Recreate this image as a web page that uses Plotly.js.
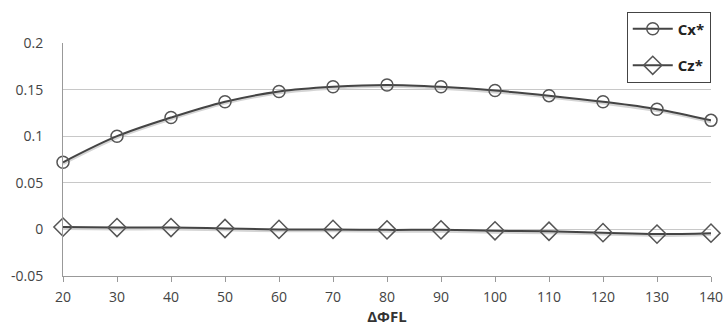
<!DOCTYPE html>
<html><head><meta charset="utf-8">
<script src="https://cdn.plot.ly/plotly-3.0.1.min.js"></script>
<style>html,body{margin:0;padding:0;background:#fff}#c{width:727px;height:328px}</style>
</head><body><div id="c"></div>
<script>
const dphi = [20,30,40,50,60,70,80,90,100,110,120,130,140];
const cx = [0.072,0.100,0.120,0.137,0.148,0.153,0.155,0.153,0.149,0.1435,0.137,0.129,0.117];
const cz = [0.0025,0.002,0.002,0.001,0.0,0.0,-0.0005,-0.0005,-0.0015,-0.002,-0.0035,-0.005,-0.004];
const yTickVals = [-0.05,0,0.05,0.1,0.15,0.2];
const yTickText = ['-0.05','0','0.05','0.1','0.15','0.2'];
const xTickVals = [20,30,40,50,60,70,80,90,100,110,120,130,140];

const font = 'Open Sans, Liberation Sans, sans-serif';
const shadow = (y) => ({x: dphi, y: y.map(v => v - 0.0015), mode: 'lines', line: {color: '#d4d4d4', width: 3, shape: 'spline'}, showlegend: false, hoverinfo: 'skip', cliponaxis: false});
const data = [
  shadow(cx), shadow(cz),
  {x: dphi, y: cx, name: 'Cx*', legendgroup: 'a', mode: 'lines+markers', line: {color: '#444', width: 2, shape: 'spline'},
   marker: {symbol: 'circle-open', size: 12, color: '#555', line: {width: 1.5, color: '#555'}}, cliponaxis: false},
  {x: dphi, y: cz, name: 'Cz*', legendgroup: 'b', mode: 'lines+markers', line: {color: '#444', width: 2, shape: 'spline'},
   marker: {symbol: 'diamond-open', size: 14, color: '#555', line: {width: 1.5, color: '#555'}}, cliponaxis: false}
];
const layout = {
  width: 727, height: 328,
  margin: {l: 63, r: 16, t: 39, b: 52},
  paper_bgcolor: '#fff', plot_bgcolor: '#fff',
  font: {family: font, size: 14, color: '#444'},
  xaxis: {range: [20, 140], tickvals: xTickVals, ticks: 'outside', ticklen: 5, tickcolor: '#999',
    showgrid: false, zeroline: false, showline: true, linecolor: '#999', linewidth: 1,
    tickfont: {size: 14, color: '#444'}, ticklabelstandoff: 3,
    title: {text: '<b>ΔΦFL</b>', font: {size: 15, color: '#333'}, standoff: 2}},
  yaxis: {range: [-0.05, 0.2], tickvals: yTickVals, ticktext: yTickText, ticks: '', showgrid: true,
    gridcolor: '#c8c8c8', gridwidth: 1, zeroline: false, showline: true, linecolor: '#999', linewidth: 1,
    tickfont: {size: 14, color: '#444'}, ticklabelstandoff: 16},
  legend: {x: 0.870, xanchor: 'left', y: 1.135, yanchor: 'top', bgcolor: '#fff',
    bordercolor: '#444', borderwidth: 1, font: {size: 15, color: '#222', weight: 'bold'},
    traceorder: 'grouped', tracegroupgap: 14, itemwidth: 40},
  showlegend: true
};
Plotly.newPlot('c', data, layout, {displayModeBar: false, staticPlot: true});
</script></body></html>
